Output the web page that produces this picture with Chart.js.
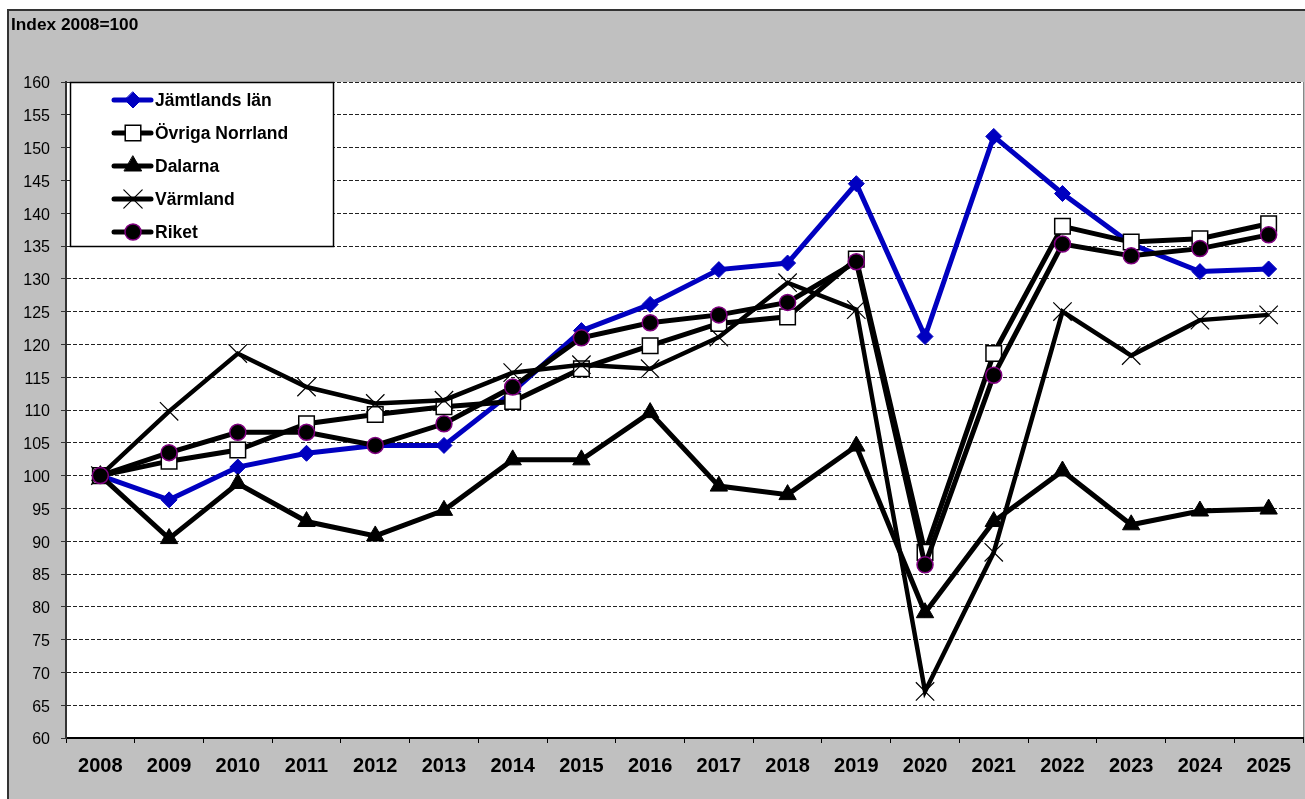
<!DOCTYPE html>
<html><head><meta charset="utf-8">
<script src="https://cdn.jsdelivr.net/npm/chart.js@4.4.1/dist/chart.umd.min.js"></script>
<style>html,body{margin:0;padding:0;background:#fff;}canvas{display:block;}</style>
</head><body><canvas id="c" width="1305" height="799"></canvas>
<script>
const years = ['2008','2009','2010','2011','2012','2013','2014','2015','2016','2017','2018','2019','2020','2021','2022','2023','2024','2025'];
const jamtland = [100, 96.3, 101.3, 103.4, 104.6, 104.6, 112.8, 122.1, 126.1, 131.4, 132.4, 144.5, 121.2, 151.7, 143.0, 135.3, 131.1, 131.5];
const ovrigaNorrland = [100, 102.2, 103.9, 107.9, 109.3, 110.5, 111.3, 116.3, 119.8, 123.2, 124.2, 133.0, 88.3, 118.6, 138.0, 135.6, 136.1, 138.4];
const dalarna = [100, 90.4, 98.8, 93.0, 90.8, 94.7, 102.4, 102.4, 109.6, 98.4, 97.1, 104.5, 79.1, 93.0, 100.7, 92.5, 94.6, 94.9];
const varmland = [100, 109.8, 118.6, 113.5, 111.0, 111.5, 115.7, 116.9, 116.3, 121.1, 129.4, 125.3, 67.1, 88.3, 125.0, 118.3, 123.7, 124.5];
const riket = [100, 103.5, 106.6, 106.6, 104.6, 107.9, 113.5, 121.0, 123.3, 124.5, 126.4, 132.6, 86.4, 115.3, 135.3, 133.5, 134.6, 136.7];
const seriesNames = ['Jämtlands län','Övriga Norrland','Dalarna','Värmland','Riket'];
const yMin = 60, yMax = 160, yStep = 5;
const titleText = 'Index 2008=100';

const FONT = '"Liberation Sans", Arial, sans-serif';
const BLUE = '#0000C0';

function drawMarker(ctx, style, r, x, y, fill, stroke, bw){
  ctx.save();
  ctx.fillStyle = fill; ctx.strokeStyle = stroke; ctx.lineWidth = bw; ctx.setLineDash([]);
  ctx.beginPath();
  if (style === 'circle') { ctx.arc(x, y, r, 0, Math.PI*2); ctx.fill(); ctx.stroke(); }
  else if (style === 'rect') { const s = r*Math.SQRT1_2; ctx.rect(x-s, y-s, 2*s, 2*s); ctx.fill(); ctx.stroke(); }
  else if (style === 'rectRot') { ctx.moveTo(x, y-r); ctx.lineTo(x+r, y); ctx.lineTo(x, y+r); ctx.lineTo(x-r, y); ctx.closePath(); ctx.fill(); ctx.stroke(); }
  else if (style === 'triangle') {
    for (let i=0;i<3;i++){ const a = i*2*Math.PI/3; const px = x+Math.sin(a)*r, py = y-Math.cos(a)*r; if(i===0) ctx.moveTo(px,py); else ctx.lineTo(px,py);} ctx.closePath(); ctx.fill(); ctx.stroke(); }
  else if (style === 'crossRot') { const o = r*Math.SQRT1_2; ctx.moveTo(x-o,y-o); ctx.lineTo(x+o,y+o); ctx.moveTo(x+o,y-o); ctx.lineTo(x-o,y+o); ctx.stroke(); }
  ctx.restore();
}

const decor = {
  id: 'decor',
  beforeDraw(chart){
    const ctx = chart.ctx, a = chart.chartArea;
    ctx.save();
    ctx.fillStyle = '#ffffff'; ctx.fillRect(0,0,chart.width,chart.height);
    ctx.fillStyle = '#C0C0C0'; ctx.fillRect(8,10,chart.width-8,chart.height-10);
    ctx.strokeStyle = '#333'; ctx.lineWidth = 2;
    ctx.beginPath(); ctx.moveTo(8, chart.height); ctx.lineTo(8,10); ctx.lineTo(chart.width,10); ctx.stroke();
    ctx.fillStyle = '#ffffff'; ctx.fillRect(a.left, a.top, a.right-a.left, a.bottom-a.top);
    ctx.strokeStyle = '#888'; ctx.lineWidth = 1;
    ctx.beginPath(); ctx.moveTo(a.right+0.5, a.top); ctx.lineTo(a.right+0.5, a.bottom); ctx.stroke();
    ctx.fillStyle = '#000'; ctx.font = 'bold 17.3px ' + FONT; ctx.textBaseline = 'alphabetic'; ctx.textAlign = 'left';
    ctx.fillText(titleText, 11, 30);
    ctx.restore();
  },
  afterDraw(chart){
    const ctx = chart.ctx;
    ctx.save();
    ctx.fillStyle = '#fff'; ctx.fillRect(70,82,264,165);
    ctx.strokeStyle = '#000'; ctx.lineWidth = 1.5; ctx.strokeRect(70.5,82.5,263,164);
    const rows = [100,133,166,199,232];
    chart.data.datasets.forEach((ds,i)=>{
      const y = rows[i];
      ctx.strokeStyle = ds.borderColor; ctx.lineWidth = 5; ctx.lineCap = 'round';
      ctx.beginPath(); ctx.moveTo(114,y); ctx.lineTo(151,y); ctx.stroke();
      drawMarker(ctx, ds.pointStyle, ds.pointRadius, 133, y, ds.pointBackgroundColor, ds.pointBorderColor, ds.pointBorderWidth);
      ctx.fillStyle = '#000'; ctx.font = 'bold 17.5px ' + FONT; ctx.textBaseline = 'middle'; ctx.textAlign = 'left';
      ctx.fillText(ds.label, 155, y+1);
    });
    ctx.restore();
  }
};

const datasets = [
  {label: seriesNames[0], data: jamtland, borderColor: BLUE, backgroundColor: BLUE, borderWidth: 5,
   pointStyle: 'rectRot', pointRadius: 8, pointBackgroundColor: BLUE, pointBorderColor: BLUE, pointBorderWidth: 1, order: 5},
  {label: seriesNames[1], data: ovrigaNorrland, borderColor: '#000', backgroundColor: '#fff', borderWidth: 5,
   pointStyle: 'rect', pointRadius: 11, pointBackgroundColor: '#fff', pointBorderColor: '#000', pointBorderWidth: 1.5, order: 4},
  {label: seriesNames[2], data: dalarna, borderColor: '#000', backgroundColor: '#000', borderWidth: 5,
   pointStyle: 'triangle', pointRadius: 10, pointBackgroundColor: '#000', pointBorderColor: '#000', pointBorderWidth: 1, order: 3},
  {label: seriesNames[3], data: varmland, borderColor: '#000', backgroundColor: '#000', borderWidth: 4.5,
   pointStyle: 'crossRot', pointRadius: 13, pointBackgroundColor: '#000', pointBorderColor: '#000', pointBorderWidth: 1.2, order: 2},
  {label: seriesNames[4], data: riket, borderColor: '#000', backgroundColor: '#000', borderWidth: 5,
   pointStyle: 'circle', pointRadius: 8, pointBackgroundColor: '#000', pointBorderColor: '#800080', pointBorderWidth: 1.5, order: 1}
];
datasets.forEach(d => { d.tension = 0; d.fill = false; d.pointHoverRadius = d.pointRadius; d.borderJoinStyle = 'miter'; });

new Chart(document.getElementById('c'), {
  type: 'line',
  data: {labels: years, datasets},
  plugins: [decor],
  options: {
    responsive: false, animation: false, events: [],
    layout: {autoPadding: false, padding: {top: 82, right: 2, left: 0, bottom: 0}},
    plugins: {legend: {display: false}, tooltip: {enabled: false}, title: {display: false}},
    scales: {
      x: {
        type: 'category', offset: true,
        grid: {offset: true, drawOnChartArea: false, drawTicks: true, tickLength: 5, color: '#000', lineWidth: 1},
        border: {display: true, color: '#000', width: 2},
        ticks: {color: '#000', font: {family: FONT, size: 20, weight: 'bold'}, padding: 11, maxRotation: 0, autoSkip: false},
        afterFit(s){ s.height = 61; s.paddingLeft = 0; s.paddingRight = 0; }
      },
      y: {
        min: yMin, max: yMax,
        ticks: {stepSize: yStep, color: '#000', font: {family: FONT, size: 16}, padding: 11, labelOffset: 2},
        grid: {color: '#222', lineWidth: 1, drawTicks: true, tickLength: 5, tickColor: '#333'},
        border: {display: true, color: '#333', width: 2, dash: [4, 2]},
        afterFit(s){ s.width = 66; s.paddingTop = 0; s.paddingBottom = 0; }
      }
    }
  }
});
</script>
</body></html>
